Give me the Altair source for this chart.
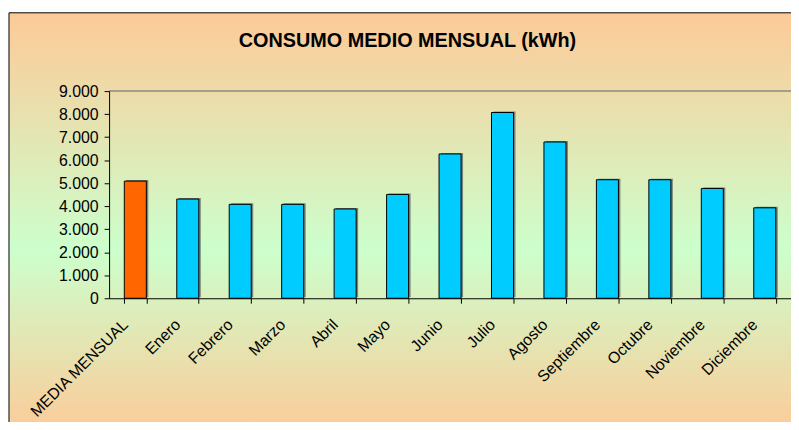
import altair as alt
import pandas as pd

title_text = ["CONSUMO MEDIO MENSUAL (kWh)"]
categories = ["MEDIA MENSUAL", "Enero", "Febrero", "Marzo", "Abril", "Mayo", "Junio",
              "Julio", "Agosto", "Septiembre", "Octubre", "Noviembre", "Diciembre"]
values = [5090, 4310, 4080, 4080, 3880, 4510, 6270, 8070, 6790, 5150, 5150, 4770, 3930]
kinds = ["media"] + ["mes"] * 12
y_ticks = [0, 1000, 2000, 3000, 4000, 5000, 6000, 7000, 8000, 9000]

df = pd.DataFrame({"cat": categories, "val": values, "kind": kinds})

W, H = 688, 209
FONT = "Liberation Sans"

xenc = alt.X("cat:N", sort=categories,
             scale=alt.Scale(paddingInner=0.58, paddingOuter=0.29),
             axis=alt.Axis(title=None, labelAngle=-45, labelAlign="right",
                           labelBaseline="top", labelPadding=13, labelOffset=-16,
                           labelFontSize=16, labelFont=FONT, labelColor="#000",
                           tickBand="extent", tickSize=5, tickColor="#000",
                           domainColor="#000", labelOverlap=False, zindex=1))
yenc = alt.Y("val:Q", scale=alt.Scale(domain=[0, 9000], nice=False),
             axis=alt.Axis(title=None, values=y_ticks, grid=False,
                           labelExpr="replace(format(datum.value, ','), ',', '.')",
                           labelFontSize=16, labelFont=FONT, labelColor="#000",
                           tickSize=5, tickColor="#000", domainColor="#000",
                           labelPadding=6, zindex=1))

grad = alt.LinearGradient(gradient="linear", x1=0, x2=0, y1=0, y2=1,
                          stops=[alt.GradientStop(color="#FDCA98", offset=0),
                                 alt.GradientStop(color="#CCFFCC", offset=0.56),
                                 alt.GradientStop(color="#FDCA98", offset=1)])

bg = alt.Chart(pd.DataFrame({"t": title_text})).mark_rect(
    fill=grad, stroke="#000", strokeWidth=1
).encode(x=alt.value(-101), x2=alt.value(W + 20), y=alt.value(-79), y2=alt.value(H + 140))

title = alt.Chart(pd.DataFrame({"t": title_text})).mark_text(
    font=FONT, fontSize=20, fontWeight="bold", color="#000", align="center",
    baseline="middle"
).encode(text="t:N", x=alt.value(301), y=alt.value(-50))

top_rule = alt.Chart(pd.DataFrame({"t": title_text})).mark_rule(
    color="#888888", strokeWidth=1.5
).encode(x=alt.value(0), x2=alt.value(W), y=alt.value(0))

shadow = alt.Chart(df).mark_bar(color="#555555", opacity=0.7, xOffset=2, yOffset=-1).encode(
    x=xenc, y=yenc)

bars = alt.Chart(df).mark_bar(stroke="#000", strokeWidth=1).encode(
    x=xenc, y=yenc,
    color=alt.Color("kind:N", scale=alt.Scale(domain=["media", "mes"],
                                              range=["#FF6600", "#00CCFF"]),
                    legend=None))

chart = alt.layer(bg, top_rule, shadow, bars, title).properties(
    width=W, height=H,
    autosize=alt.AutoSizeParams(type="none"),
    padding={"left": 102, "top": 82, "right": 0, "bottom": 123},
).configure_view(stroke=None).configure(background="white")

chart.save("out.html", embed_options={"renderer": "svg", "actions": False})
